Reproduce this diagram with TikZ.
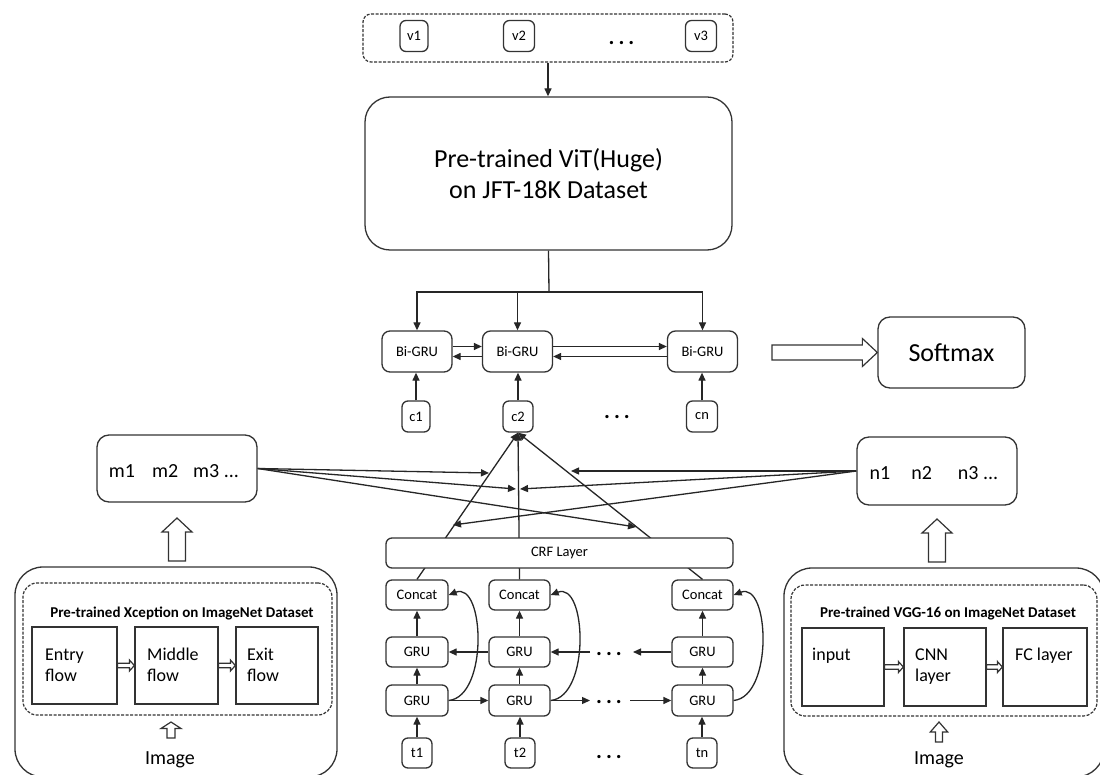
\documentclass[tikz,border=0pt]{standalone}
\usepackage{fontspec}
\setmainfont{Carlito}
\usetikzlibrary{arrows.meta,calc}

% hollow block arrows between two points (pointing right / pointing up)
\newcommand{\hollowright}[5]{%
  \draw[hollow] let \p1=(#1), \p2=(#2) in
    (\x1,\y2+#3) -- (\x2-#5,\y2+#3) -- (\x2-#5,\y2+#4) -- (\x2,\y2)
    -- (\x2-#5,\y2-#4) -- (\x2-#5,\y2-#3) -- (\x1,\y2-#3) -- cycle;}
\newcommand{\hollowup}[5]{%
  \draw[hollow] let \p1=(#1), \p2=(#2) in
    (\x1-#3,\y1) -- (\x1-#3,\y2-#5) -- (\x1-#4,\y2-#5) -- (\x1,\y2)
    -- (\x1+#4,\y2-#5) -- (\x1+#3,\y2-#5) -- (\x1+#3,\y1) -- cycle;}

\begin{document}
\begin{tikzpicture}[x=1pt,y=-1pt,
  box/.style={draw=black!80, line width=1.3pt, rounded corners=#1, fill=white,
              inner sep=0pt, text=black},
  box/.default=6pt,
  dbox/.style={draw=black!80, line width=1.2pt, dashed, dash pattern=on 3pt off 1.5pt,
               rounded corners=#1, inner sep=0pt},
  dbox/.default=10pt,
  sqbox/.style={draw=black!80, line width=1.2pt, inner sep=0pt, fill=white},
  small/.style={font=\fontsize{14.5}{17}\selectfont},
  mid/.style={font=\fontsize{18}{21}\selectfont},
  big/.style={font=\fontsize{20}{24}\selectfont},
  huge/.style={font=\fontsize{26}{31}\selectfont},
  title/.style={font=\fontsize{15}{18}\selectfont\bfseries, anchor=base},
  dots/.style={font=\fontsize{22}{26}\selectfont\bfseries, anchor=base, inner sep=0pt},
  line/.style={draw=black!85, line width=1.3pt},
  arr/.style={line, -{Triangle[length=8pt,width=7pt]}},
  hollow/.style={draw=black!80, line width=1.2pt, fill=white, line join=miter},
]
\useasboundingbox (0,0) rectangle (1100,775);
\fill[white] (0,0) rectangle (1100,775);
\clip (0,0) rectangle (1100,775);

% ---------------- input tokens and ViT encoder ----------------
\node[dbox=8pt, minimum width=370, minimum height=48] (vgrp) at (548,38) {};
\node[box, small, minimum width=28, minimum height=31] (v1) at (414,36) {v1};
\node[box, small, minimum width=31, minimum height=31] (v2) at (519,36) {v2};
\node[box, small, minimum width=31, minimum height=31] (v3) at (701,36) {v3};
\node[dots] (vdots) at (621.5,44.5) {.\hspace{4pt}.\hspace{4pt}.};

\node[box=25pt, huge, align=center, minimum width=367, minimum height=153] (vit) at (548.5,173.5)
  {Pre-trained ViT(Huge)\\on JFT-18K Dataset};
\draw[arr] (vgrp.south) -- (vgrp.south |- vit.north);

% ---------------- Bi-GRU layer ----------------
\node[box=8pt, small, minimum width=70, minimum height=41] (bg1) at (417,351.5) {Bi-GRU};
\node[box=8pt, small, minimum width=70, minimum height=41] (bg2) at (517.5,351.5) {Bi-GRU};
\node[box=8pt, small, minimum width=70, minimum height=41] (bg3) at (702.5,351.5) {Bi-GRU};

\coordinate (split) at (549,292);
\draw[line] (vit.south) -- (split);
\draw[arr] (split) -| (bg1.north);
\draw[arr] (split) -| (bg3.north);
\draw[arr] (split -| bg2.north) -- (bg2.north);

\draw[arr] ([yshift=5pt]bg1.east) -- ([yshift=5pt]bg2.west);
\draw[arr] ([yshift=-5pt]bg2.west) -- ([yshift=-5pt]bg1.east);
\draw[arr] ([yshift=5pt]bg2.east) -- ([yshift=5pt]bg3.west);
\draw[arr] ([yshift=-5pt]bg3.west) -- ([yshift=-5pt]bg2.east);

\node[box, small, minimum width=28, minimum height=31] (c1) at (416,416.5) {c1};
\node[box, small, minimum width=30, minimum height=31] (c2) at (518,416.5) {c2};
\node[box, small, minimum width=31, minimum height=31] (cn) at (702,416.5) {cn};
\node[dots] (cdots) at (617,418.5) {.\hspace{4pt}.\hspace{4pt}.};
\draw[arr] (c1.north) -- (c1.north |- bg1.south);
\draw[arr] (c2.north) -- (c2.north |- bg2.south);
\draw[arr] (cn.north) -- (cn.north |- bg3.south);

% ---------------- Softmax ----------------
\node[box=12pt, huge, minimum width=147, minimum height=71] (soft) at (951.5,352.5) {Softmax};
\coordinate (sa) at (772,352.5);
\hollowright{sa}{soft.west}{7.5pt}{14pt}{15pt}

% ---------------- image feature vectors ----------------
\node[box=12pt, minimum width=160, minimum height=67] (mbox) at (177,468.5) {};
\node[big, anchor=base, inner sep=0pt] (mtext) at (174,477) {m1\hspace{17pt}m2\hspace{15pt}m3 ...};
\node[box=12pt, minimum width=160, minimum height=68] (nbox) at (937,471) {};
\node[big, anchor=base, inner sep=0pt] (ntext) at (934,479) {n1\hspace{21pt}n2\hspace{26pt}n3 ...};

\coordinate (mt1) at (489,473);
\coordinate (mt2) at (516,489);
\coordinate (mt3) at (636,527);
\coordinate (nt1) at (571,471);
\coordinate (nt2) at (520,489);
\coordinate (nt3) at (453,525);
\draw[arr] (mbox.east) -- (mt1);
\draw[arr] (mbox.east) -- (mt2);
\draw[arr] (mbox.east) -- (mt3);
\draw[arr] (nbox.west) -- (nt1);
\draw[arr] (nbox.west) -- (nt2);
\draw[arr] (nbox.west) -- (nt3);

% ---------------- text branch: GRU stacks ----------------
\node[box, small, minimum width=62, minimum height=30] (cc1) at (417,595) {Concat};
\node[box, small, minimum width=61, minimum height=30] (cc2) at (519.5,595) {Concat};
\node[box, small, minimum width=61, minimum height=30] (cc3) at (702.5,595) {Concat};
\node[box, small, minimum width=62, minimum height=30] (gu1) at (417,652) {GRU};
\node[box, small, minimum width=61, minimum height=30] (gu2) at (519.5,652) {GRU};
\node[box, small, minimum width=61, minimum height=30] (gu3) at (702.5,652) {GRU};
\node[box, small, minimum width=62, minimum height=31] (gl1) at (417,700.5) {GRU};
\node[box, small, minimum width=61, minimum height=31] (gl2) at (519.5,700.5) {GRU};
\node[box, small, minimum width=61, minimum height=31] (gl3) at (702.5,700.5) {GRU};
\node[box, small, minimum width=30, minimum height=30] (t1) at (417,753) {t1};
\node[box, small, minimum width=30, minimum height=30] (t2) at (520,753) {t2};
\node[box, small, minimum width=30, minimum height=30] (tn) at (702,753) {tn};
\node[dots] (udots) at (609,655.5) {.\hspace{4pt}.\hspace{4pt}.};
\node[dots] (ldots) at (609,703.5) {.\hspace{4pt}.\hspace{4pt}.};
\node[dots] (tdots) at (609,758.5) {.\hspace{4pt}.\hspace{4pt}.};

\foreach \i/\j in {1/1,2/2,n/3}{
  \draw[arr] (t\i.north) -- (t\i.north |- gl\j.south);
}
\foreach \i in {1,2,3}{
  \draw[arr] (gl\i.north) -- (gu\i.south);
  \draw[arr] (gu\i.north) -- (cc\i.south);
  \draw[arr] (gl\i.east) .. controls +(40,-4) and +(36,-14) .. (cc\i.east);
}

% forward direction (lower row) and backward direction (upper row)
\coordinate (la) at (590,700.5);
\coordinate (lb) at (630,700.5);
\coordinate (ua) at (633,652);
\coordinate (ub) at (590,652);
\draw[arr] (gl1.east) -- (gl2.west);
\draw[arr] (gl2.east) -- (la);
\draw[arr] (lb) -- (gl3.west);
\draw[arr] (gu2.west) -- (gu1.east);
\draw[arr] (gu3.west) -- (ua);
\draw[arr] (ub) -- (gu2.east);

% outputs of the CRF layer towards c2 (drawn behind the layer box)
\draw[arr] (cc1.north) -- (c2.south);
\draw[arr] (cc2.north) -- (c2.south);
\draw[arr] (cc3.north) -- (c2.south);
\node[box, small, minimum width=347, minimum height=30] (crf) at (559.5,553) {CRF Layer};

% ---------------- Xception branch ----------------
\node[box=28pt, minimum width=322, minimum height=210] (xo) at (176,672) {};
\node[dbox=14pt, minimum width=309, minimum height=132] (xi) at (177.5,649) {};
\node[title] (xt) at (182,617) {Pre-trained Xception on ImageNet Dataset};
\node[sqbox, minimum width=85, minimum height=77] (xe) at (74.5,665.5) {};
\node[sqbox, minimum width=83, minimum height=77] (xm) at (176.5,665.5) {};
\node[sqbox, minimum width=82, minimum height=77] (xx) at (277,665.5) {};
\node[mid, anchor=base west, inner sep=0pt] at (45,660) {Entry};
\node[mid, anchor=base west, inner sep=0pt] at (45,681) {flow};
\node[mid, anchor=base west, inner sep=0pt] at (147,660) {Middle};
\node[mid, anchor=base west, inner sep=0pt] at (147,681) {flow};
\node[mid, anchor=base west, inner sep=0pt] at (247,660) {Exit};
\node[mid, anchor=base west, inner sep=0pt] at (247,681) {flow};
\hollowright{xe.east}{xm.west}{2.3pt}{5.5pt}{5pt}
\hollowright{xm.east}{xx.west}{2.3pt}{5.5pt}{5pt}
\coordinate (xa) at (171,738);
\coordinate (xb) at (171,722);
\hollowup{xa}{xb}{4pt}{10pt}{6.5pt}
\node[big, anchor=base, inner sep=0pt] (ximg) at (170,764) {Image};
\coordinate (ma) at (177,561);
\coordinate (mb) at (177,518);
\hollowup{ma}{mb}{8.5pt}{15pt}{14pt}

% ---------------- VGG-16 branch ----------------
\node[box=28pt, minimum width=320, minimum height=209] (vo) at (944,672.5) {};
\node[dbox=14pt, minimum width=306, minimum height=131] (vi) at (944,650.5) {};
\node[title] (vt) at (948,617) {Pre-trained VGG-16 on ImageNet Dataset};
\node[sqbox, minimum width=82, minimum height=78] (vin) at (843,667) {};
\node[sqbox, minimum width=82, minimum height=78] (vcn) at (945,667) {};
\node[sqbox, minimum width=84, minimum height=78] (vfc) at (1045,667) {};
\node[mid, anchor=base west, inner sep=0pt] at (812,660) {input};
\node[mid, anchor=base west, inner sep=0pt] at (915,660) {CNN};
\node[mid, anchor=base west, inner sep=0pt] at (915,681) {layer};
\node[mid, anchor=base west, inner sep=0pt] at (1015,660) {FC layer};
\hollowright{vin.east}{vcn.west}{2.3pt}{5.5pt}{5pt}
\hollowright{vcn.east}{vfc.west}{2.3pt}{5.5pt}{5pt}
\coordinate (ya) at (939,742);
\coordinate (yb) at (939,722);
\hollowup{ya}{yb}{3.5pt}{8.7pt}{10pt}
\node[big, anchor=base, inner sep=0pt] (yimg) at (939,764) {Image};
\coordinate (na) at (937,562);
\coordinate (nb) at (937,519);
\hollowup{na}{nb}{8.5pt}{15pt}{14pt}
\end{tikzpicture}
\end{document}
